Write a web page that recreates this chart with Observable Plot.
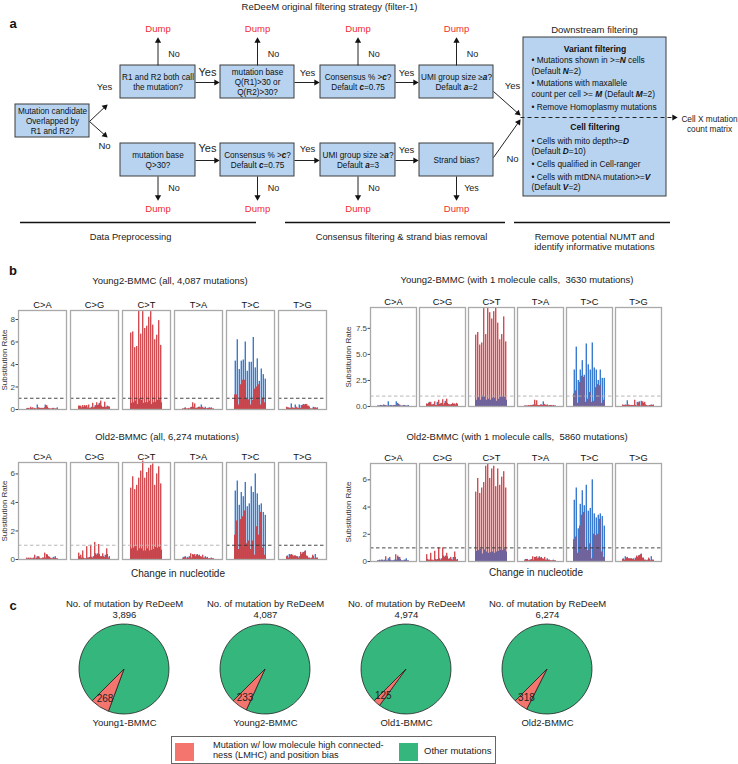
<!DOCTYPE html>
<html><head><meta charset="utf-8">
<script src="https://cdn.jsdelivr.net/npm/d3@7"></script>
<script src="https://cdn.jsdelivr.net/npm/@observablehq/plot@0.6"></script>
<style>
body{margin:0;background:#fff;}
#root{position:relative;width:738px;height:764px;overflow:hidden;background:#fff;font-family:"Liberation Sans",Arial,Helvetica,sans-serif;}
</style></head>
<body><div id="root"></div>
<script>
// ================= DATA =================
const mutationTypes = ["C>A","C>G","C>T","T>A","T>C","T>G"];
const contexts = ["A_A","A_C","A_G","A_T","C_A","C_C","C_G","C_T","G_A","G_C","G_G","G_T","T_A","T_C","T_G","T_T"];

// Young2-BMMC (all, 4,087 mutations) — 6 types x 16 contexts
const young2AllRed = [
 0.05,0.10,0.20,0.15,0.10,0.05,0.15,0.10,0.10,0.15,0.35,0.10,0.05,0.10,0.05,0.05,
 0.30,0.30,0.35,0.35,0.35,0.40,0.10,0.55,0.20,0.60,0.40,0.75,0.20,0.65,0.20,0.25,
 6.8,6.9,5.5,5.6,8.8,6.7,8.7,7.2,7.4,8.2,8.7,7.5,6.2,6.6,7.9,5.7,
 0.05,0.10,0.05,0.10,0.15,0.60,0.50,0.10,0.20,0.15,0.20,0.10,0.05,0.10,0.10,0.05,
 1.3,1.3,0.4,2.2,2.6,2.6,0.9,0.85,0.4,0.8,1.8,2.0,2.2,0.4,1.0,0.6,
 0.20,0.15,0.10,0.15,0.10,0.20,0.10,0.10,0.35,0.40,0.45,0.30,0.05,0.05,0.15,0.10];
const young2AllBlue = [
 0.10,0.05,0.10,0.05,0.05,0.40,0.10,0.10,0.10,0.40,0.20,0.05,0.05,0.10,0.05,0.15,
 0.30,0.15,0.20,0.25,0.15,0.10,0.20,0.15,0.35,0.35,0.55,0.30,0.20,0.20,0.30,0.20,
 0.55,0.60,0.75,0.45,0.95,0.80,0.55,0.60,0.60,0.75,0.45,0.60,0.65,0.80,0.85,0.60,
 0.05,0.15,0.05,0.05,0.20,0.20,0.10,0.15,0.20,0.40,0.10,0.20,0.10,0.15,0.15,0.05,
 4.3,6.2,3.55,4.3,4.4,6.0,3.4,4.2,4.2,6.4,3.7,4.5,2.5,3.6,3.1,2.7,
 0.15,0.10,0.50,0.10,0.40,0.10,0.40,0.35,0.45,0.45,0.30,0.20,0.05,0.20,0.15,0.15];

// Young2-BMMC (with 1 molecule calls, 3630 mutations)
const young2MolRed = [
 0.05,0.05,0.10,0.15,0.10,0.05,0.05,0.10,0.10,0.10,0.30,0.15,0.05,0.10,0.05,0.05,
 0.25,0.30,0.40,0.15,0.45,0.10,0.60,0.25,0.65,0.30,0.70,0.20,0.15,0.30,0.25,0.30,
 6.85,7.1,5.9,6.1,9.4,6.9,9.5,9.0,8.4,9.1,9.5,8.0,6.4,6.9,8.6,6.2,
 0.05,0.05,0.10,0.10,0.10,0.60,0.55,0.10,0.15,0.10,0.20,0.10,0.05,0.10,0.05,0.05,
 1.2,1.5,0.3,2.3,2.9,2.8,0.4,0.7,1.35,0.4,0.5,1.8,2.1,2.0,0.3,0.6,
 0.15,0.10,0.10,0.15,0.10,0.10,0.60,0.05,0.35,0.05,0.45,0.40,0.10,0.05,0.10,0.10];
const young2MolBlue = [
 0.05,0.10,0.05,0.10,0.05,0.45,0.10,0.05,0.10,0.45,0.20,0.05,0.05,0.10,0.05,0.10,
 0.20,0.40,0.15,0.20,0.10,0.40,0.20,0.30,0.15,0.50,0.30,0.15,0.20,0.20,0.15,0.20,
 0.60,0.85,0.60,1.00,0.90,0.60,0.70,0.60,0.80,0.80,0.50,0.70,0.90,0.90,0.90,0.60,
 0.05,0.05,0.05,0.10,0.15,0.15,0.10,0.10,0.15,0.45,0.10,0.15,0.10,0.10,0.10,0.05,
 3.5,5.7,2.5,3.5,4.4,3.0,6.0,4.0,3.5,6.1,3.7,3.5,2.5,3.5,2.7,2.7,
 0.10,0.15,0.55,0.10,0.10,0.10,0.10,0.40,0.45,0.50,0.30,0.15,0.05,0.10,0.15,0.15];

// Old2-BMMC (all, 6,274 mutations)
const old2AllRed = [
 0.10,0.10,0.10,0.05,0.30,0.10,0.20,0.05,0.10,0.45,0.35,0.20,0.10,0.05,0.10,0.05,
 0.45,0.30,0.60,0.05,0.90,0.10,1.00,0.10,1.20,0.30,1.05,0.20,0.40,0.15,0.75,0.10,
 5.0,5.8,4.9,5.2,5.7,6.2,6.9,5.7,6.1,6.4,6.6,6.7,5.2,6.0,6.5,5.3,
 0.05,0.15,0.05,0.10,0.40,0.35,0.35,0.30,0.25,0.20,0.30,0.10,0.10,0.05,0.05,0.05,
 1.7,2.7,0.7,2.8,3.0,3.4,1.1,1.3,0.7,1.3,0.3,2.3,1.7,3.3,0.8,0.3,
 0.20,0.10,0.30,0.30,0.25,0.20,0.10,0.50,0.45,0.55,0.25,0.10,0.05,0.30,0.05,0.10];
const old2AllBlue = [
 0.05,0.05,0.05,0.10,0.05,0.20,0.10,0.05,0.10,0.10,0.30,0.15,0.05,0.15,0.20,0.05,
 0.20,0.10,0.10,0.05,0.10,0.15,0.15,0.20,0.40,0.40,0.35,0.20,0.20,0.30,0.35,0.20,
 0.75,0.80,0.90,0.60,0.75,0.75,0.60,0.60,0.75,0.60,0.65,0.70,0.85,0.80,0.85,0.65,
 0.15,0.20,0.15,0.20,0.10,0.30,0.20,0.35,0.30,0.15,0.10,0.20,0.15,0.05,0.10,0.05,
 4.8,5.5,3.8,4.7,4.4,5.4,3.7,3.9,5.1,4.7,6.0,4.6,3.8,3.9,3.3,3.1,
 0.25,0.35,0.35,0.20,0.25,0.20,0.20,0.35,0.50,0.60,0.20,0.10,0.10,0.20,0.35,0.10];

// Old2-BMMC (with 1 molecule calls, 5860 mutations)
const old2MolRed = [
 0.05,0.10,0.10,0.05,0.35,0.05,0.30,0.05,0.05,0.50,0.40,0.30,0.05,0.05,0.10,0.05,
 0.50,0.10,0.60,0.10,0.75,0.10,1.00,0.10,1.00,0.30,0.60,0.15,0.30,0.10,0.70,0.10,
 5.1,6.1,5.0,5.4,5.8,7.0,7.2,6.1,6.8,7.0,5.5,6.8,5.6,6.2,6.6,5.4,
 0.05,0.15,0.05,0.10,0.35,0.30,0.35,0.25,0.25,0.20,0.30,0.10,0.10,0.05,0.05,0.05,
 1.6,1.8,0.6,2.6,3.4,3.6,1.0,0.8,1.3,0.2,2.0,1.9,2.0,3.1,0.7,0.3,
 0.15,0.10,0.25,0.20,0.20,0.15,0.10,0.40,0.40,0.50,0.25,0.10,0.05,0.25,0.05,0.10];
const old2MolBlue = [
 0.05,0.05,0.10,0.10,0.05,0.20,0.10,0.05,0.10,0.10,0.30,0.15,0.05,0.10,0.20,0.05,
 0.15,0.10,0.10,0.05,0.15,0.15,0.20,0.20,0.40,0.40,0.35,0.20,0.15,0.30,0.30,0.15,
 0.75,0.80,0.90,0.55,0.85,0.70,0.60,0.65,0.70,0.60,0.70,0.75,0.85,0.80,0.90,0.70,
 0.15,0.15,0.10,0.15,0.10,0.30,0.20,0.35,0.30,0.15,0.10,0.20,0.10,0.05,0.10,0.05,
 4.5,5.4,2.4,4.2,5.2,4.1,5.6,3.7,3.9,6.0,3.5,3.2,3.4,3.5,3.3,2.6,
 0.20,0.35,0.30,0.20,0.20,0.20,0.25,0.30,0.45,0.55,0.25,0.10,0.10,0.15,0.35,0.10];

// Panel c pies
const pieSamples = ["Young1-BMMC","Young2-BMMC","Old1-BMMC","Old2-BMMC"];
const pieTotals  = [3896, 4087, 4974, 6274];
const pieLMHC    = [268, 233, 125, 318];
const legendLabels = ["Mutation w/ low molecule high connected-\nness (LMHC) and position bias", "Other mutations"];

// ================= STYLE / LAYOUT =================
const FONT = '"Liberation Sans", Arial, Helvetica, sans-serif';
const RED = "#cc3a3e", BLUE = "#3a7bcf";
const PINK = "#f3756e", GREEN = "#35b67c";
const BOXFILL = "#b7d3ef", DUMP = "#ee2b30";
const root = document.getElementById("root");

function put(el, left, top){ el.style.position="absolute"; el.style.left=left+"px"; el.style.top=top+"px"; root.appendChild(el); return el; }
function txt(s, x, y, o={}){
  const d=document.createElement("div");
  d.textContent=s;
  const size=o.size||9.5;
  d.style.cssText=`position:absolute;left:${x}px;top:${y}px;font-size:${size}px;font-weight:${o.weight||400};color:${o.color||"#222"};white-space:pre;line-height:1;font-family:${FONT};transform:translate(${o.anchor==="start"?"0":"-50%"},-50%) rotate(${o.rotate||0}deg);`;
  root.appendChild(d); return d;
}
function emphasize(svg){
  svg.querySelectorAll("text, tspan").forEach(el=>{
    if (el.children.length) return;
    const s = el.textContent;
    if (!s.includes("*")) return;
    el.textContent = "";
    s.split("*").forEach((part,i)=>{
      if (!part) return;
      const t = document.createElementNS("http://www.w3.org/2000/svg","tspan");
      t.textContent = part;
      if (i%2===1){ t.setAttribute("font-weight","bold"); t.setAttribute("font-style","italic"); }
      el.appendChild(t);
    });
  });
}

// ================= PANEL a : flowchart =================
const flowBoxes = [
  {x1:15, x2:89, y1:104, y2:137, text:"Mutation candidate\nOverlapped by\nR1 and R2?"},
  {x1:120,x2:195,y1:65, y2:98, text:"R1 and R2 both call\nthe mutation?"},
  {x1:220,x2:294,y1:65, y2:98, text:"mutation base\nQ(R1)>30 or\nQ(R2)>30?"},
  {x1:320,x2:395,y1:65, y2:98, text:"Consensus % >*c*?\nDefault *c*=0.75"},
  {x1:419,x2:493,y1:65, y2:98, text:"UMI group size ≥*a*?\nDefault *a*=2"},
  {x1:120,x2:195,y1:143,y2:176,text:"mutation base\nQ>30?"},
  {x1:220,x2:294,y1:143,y2:176,text:"Consensus % >*c*?\nDefault *c*=0.75"},
  {x1:320,x2:395,y1:143,y2:176,text:"UMI group size ≥*a*?\nDefault *a*=3"},
  {x1:419,x2:493,y1:143,y2:176,text:"Strand bias?"}
];
const downBox = [{x1:523,x2:666,y1:37,y2:196}];
const colX = [157.5,257,357.5,456];
function arrow(x1,y1,x2,y2,dash){
  const dx=x2-x1, dy=y2-y1, L=Math.hypot(dx,dy), ux=dx/L, uy=dy/L;
  return {x1,y1,x2:x2-ux*4,y2:y2-uy*4,hx:x2-ux*3.4,hy:y2-uy*3.4,rot:Math.atan2(dx,-dy)*180/Math.PI,dash};
}
const arrows = [
  ...colX.map(c=>arrow(c,65,c,37)),
  ...colX.map(c=>arrow(c,176,c,200)),
  arrow(195,82,219,82), arrow(294,82,319,82), arrow(395,82,418,82),
  arrow(195,160,219,160), arrow(294,160,319,160), arrow(395,160,418,160),
  arrow(89,121,107,104), arrow(89,121,107,137),
  arrow(493,91,520,115), arrow(493,157,520,119)
];
const dashArrow = [arrow(520,117,677,117,true)];
const flowLabels = [
  ...colX.map(c=>({x:c,y:28,text:"Dump",color:DUMP,size:9.5})),
  ...colX.map(c=>({x:c,y:208,text:"Dump",color:DUMP,size:9.5})),
  ...colX.map(c=>({x:c+16,y:53,text:"No",color:"#222",size:9})),
  ...["No","No","No","Yes"].map((t,i)=>({x:colX[i]+(t==="Yes"?15:16),y:187,text:t,color:"#222",size:9})),
  {x:207,y:72,text:"Yes",color:"#222",size:11},{x:307,y:72,text:"Yes",color:"#222",size:9.5},{x:406,y:72,text:"Yes",color:"#222",size:9.5},
  {x:207,y:148,text:"Yes",color:"#222",size:11},{x:307,y:148,text:"Yes",color:"#222",size:9.5},{x:406,y:149,text:"Yes",color:"#222",size:9.5},
  {x:104,y:86,text:"Yes",color:"#222",size:9.5},{x:104,y:145,text:"No",color:"#222",size:9.5},
  {x:512,y:85,text:"Yes",color:"#222",size:9.5},{x:512,y:158,text:"No",color:"#222",size:9.5},
  {x:594,y:29,text:"Downstream filtering",color:"#222",size:9.5},
  {x:329,y:6,text:"ReDeeM original filtering strategy (filter-1)",color:"#222",size:9.5},
  {x:709,y:123.5,text:"Cell X mutation\ncount matrix",color:"#222",size:8.3},
  {x:130,y:236,text:"Data Preprocessing",color:"#222",size:9.3},
  {x:401,y:236,text:"Consensus filtering & strand bias removal",color:"#222",size:9.3},
  {x:594,y:241.5,text:"Remove potential NUMT and\nidentify informative mutations",color:"#222",size:9.3}
];
const downHeads = [{x:594.5,y:49,text:"Variant filtering"},{x:594.5,y:127,text:"Cell filtering"}];
const downLines = [
  {y:60,text:"• Mutations shown in >=*N* cells"},
  {y:71,text:"(Default *N*=2)"},
  {y:83,text:"• Mutations with maxallele"},
  {y:93.5,text:"count per cell >= *M* (Default *M*=2)"},
  {y:106.5,text:"• Remove Homoplasmy mutations"},
  {y:141,text:"• Cells with mito depth>=*D*"},
  {y:151,text:"(Default *D*=10)"},
  {y:164,text:"• Cells qualified in Cell-ranger"},
  {y:177,text:"• Cells with mtDNA mutation>=*V*"},
  {y:187,text:"(Default *V*=2)"}
];
const sectionRules = [{x1:20,x2:256},{x1:285,x2:505},{x1:514,x2:670}];

const flow = Plot.plot({
  width:738, height:256, margin:0,
  x:{domain:[0,738], range:[0,738], axis:null},
  y:{domain:[0,256], range:[0,256], axis:null},
  style:{fontFamily:FONT, background:"transparent", overflow:"visible"},
  marks:[
    Plot.rect(flowBoxes,{x1:"x1",x2:"x2",y1:"y1",y2:"y2",fill:BOXFILL,stroke:"#3d3d3d",strokeWidth:1}),
    Plot.rect(downBox,{x1:"x1",x2:"x2",y1:"y1",y2:"y2",fill:BOXFILL,stroke:"#3d3d3d",strokeWidth:1}),
    Plot.text(flowBoxes,{x:d=>(d.x1+d.x2)/2,y:d=>(d.y1+d.y2)/2,text:"text",fontSize:8.2,lineHeight:1.2,fill:"#111"}),
    Plot.link(arrows,{x1:"x1",y1:"y1",x2:"x2",y2:"y2",stroke:"#222",strokeWidth:1}),
    Plot.link(dashArrow,{x1:"x1",y1:"y1",x2:"x2",y2:"y2",stroke:"#222",strokeWidth:1,strokeDasharray:"4,3"}),
    Plot.dot([...arrows,...dashArrow],{x:"hx",y:"hy",rotate:"rot",symbol:"triangle",r:2.3,fill:"#111",stroke:"none"}),
    Plot.text(flowLabels,{x:"x",y:"y",text:"text",fill:"color",fontSize:"size",lineHeight:1.1}),
    Plot.text(downHeads,{x:"x",y:"y",text:"text",fontSize:8.6,fontWeight:"bold",fill:"#111"}),
    Plot.text(downLines,{x:()=>531,y:"y",text:"text",fontSize:8.3,textAnchor:"start",fill:"#111"}),
    Plot.ruleY(sectionRules,{x1:"x1",x2:"x2",y:()=>222,stroke:"#111",strokeWidth:1.4})
  ]
});
emphasize(flow);
put(flow,0,0);
txt("a",13,23,{size:13,weight:700,color:"#111"});

// ================= PANEL b : substitution bars =================
const LIGHT="#b0b0b0", DARK="#333";
const barCharts = [
  {red:young2AllRed, blue:young2AllBlue, left:0, top:290, width:330, height:121, marginLeft:17, marginTop:20,
   yMax:8.8, ticks:[0,2,4,6,8], fmt:d3.format("d"), gap:0.076, dash:[DARK,DARK,DARK,DARK,DARK,DARK],
   title:"Young2-BMMC (all, 4,087 mutations)", tx:170, ty:281, ylx:5, xlabel:null},
  {red:young2MolRed, blue:young2MolBlue, left:350, top:291, width:314, height:117, marginLeft:18, marginTop:16,
   yMax:9.5, ticks:[0,2.5,5,7.5], fmt:d3.format(".1f"), gap:0.067, dash:[LIGHT,LIGHT,LIGHT,LIGHT,LIGHT,LIGHT],
   title:"Young2-BMMC (with 1 molecule calls,  3630 mutations)", tx:517, ty:280, ylx:349, xlabel:null},
  {red:old2AllRed, blue:old2AllBlue, left:0, top:442, width:330, height:119, marginLeft:17, marginTop:20,
   yMax:6.8, ticks:[0,2,4,6], fmt:d3.format("d"), gap:0.076, dash:[LIGHT,LIGHT,LIGHT,LIGHT,DARK,DARK],
   title:"Old2-BMMC (all, 6,274 mutations)", tx:167, ty:437, ylx:5, xlabel:[178,574]},
  {red:old2MolRed, blue:old2MolBlue, left:350, top:444, width:314, height:119, marginLeft:18, marginTop:19,
   yMax:7.2, ticks:[0,2,4,6], fmt:d3.format("d"), gap:0.067, dash:[DARK,DARK,DARK,DARK,DARK,DARK],
   title:"Old2-BMMC (with 1 molecule calls,  5860 mutations)", tx:517, ty:437, ylx:349, xlabel:[536,573]}
];
for (const cfg of barCharts){
  const rows=[];
  mutationTypes.forEach((t,i)=>contexts.forEach((c,j)=>{
    rows.push({type:t,context:c,strand:"L",value:cfg.red[i*16+j]});
    rows.push({type:t,context:c,strand:"H",value:cfg.blue[i*16+j]});
  }));
  const dash = mutationTypes.map((t,i)=>({type:t,level:1,color:cfg.dash[i]}));
  const chart = Plot.plot({
    width:cfg.width, height:cfg.height,
    marginLeft:cfg.marginLeft, marginRight:2, marginTop:cfg.marginTop, marginBottom:2,
    style:{fontFamily:FONT, background:"transparent", overflow:"visible", color:"#222"},
    fx:{domain:mutationTypes, paddingInner:cfg.gap, paddingOuter:0, axis:null},
    x:{domain:contexts, paddingInner:0, paddingOuter:0.25, axis:null},
    y:{domain:[0,cfg.yMax], axis:null},
    color:{type:"identity"},
    marks:[
      Plot.barY(rows.filter(d=>d.strand==="H"),{fx:"type",x:"context",y:"value",fill:BLUE,insetLeft:0.6}),
      Plot.barY(rows.filter(d=>d.strand==="L"),{fx:"type",x:"context",y:"value",fill:RED,fillOpacity:0.9,insetRight:0.6}),
      Plot.ruleY(dash,{fx:"type",y:"level",stroke:"color",strokeDasharray:"3.5,2.5",strokeWidth:0.9}),
      Plot.frame({stroke:"#a9a9a9",strokeWidth:1.3}),
      Plot.axisFx({anchor:"top",tickSize:0,tickPadding:3,fontSize:9.3,label:null,color:"#111"}),
      Plot.axisY({anchor:"left",facetAnchor:"left",ticks:cfg.ticks,tickFormat:cfg.fmt,tickSize:2.5,tickPadding:1,fontSize:8,label:null,color:"#444"})
    ]
  });
  put(chart,cfg.left,cfg.top);
  txt(cfg.title,cfg.tx,cfg.ty,{size:9.5});
  const panelMid = cfg.top + cfg.marginTop + (cfg.height-cfg.marginTop-2)/2;
  txt("Substitution Rate",cfg.ylx,panelMid,{size:8,rotate:-90,color:"#333"});
  if (cfg.xlabel) txt("Change in nucleotide",cfg.xlabel[0],cfg.xlabel[1],{size:10});
}
txt("b",13,270,{size:13,weight:700,color:"#111"});

// ================= PANEL c : pies =================
const pieRows = pieSamples.map((s,i)=>({sample:s,total:pieTotals[i],lmhc:pieLMHC[i]}));
const PIE_R = 45, PIE_CY = 79, PIE_END = 225*Math.PI/180;
function pieMark(index, scales){
  const g = d3.create("svg:g");
  for (const d of pieRows){
    const cx = scales.x(d.sample), cy = scales.y(PIE_CY);
    const arcs = d3.pie().sort(null).value(v=>v.n).startAngle(PIE_END).endAngle(PIE_END+2*Math.PI)
      ([{key:"other",n:d.total-d.lmhc},{key:"lmhc",n:d.lmhc}]);
    const arc = d3.arc().innerRadius(0).outerRadius(PIE_R);
    const gg = g.append("g").attr("transform",`translate(${cx},${cy})`);
    gg.selectAll("path").data(arcs).join("path").attr("d",arc)
      .attr("fill",a=>a.data.key==="lmhc"?PINK:GREEN).attr("stroke","#222").attr("stroke-width",0.8);
    const lab = arcs[1];
    const c = d3.arc().innerRadius(PIE_R*0.78).outerRadius(PIE_R*0.78).centroid(lab);
    gg.append("text").attr("x",c[0]).attr("y",c[1]).attr("dy","0.35em").attr("text-anchor","middle")
      .attr("font-size",10).attr("fill","#222").text(d.lmhc);
  }
  return g.node();
}
const pies = Plot.plot({
  width:738, height:142, margin:0,
  x:{type:"point", domain:pieSamples, range:[123,548], padding:0, axis:null},
  y:{domain:[0,142], range:[0,142], axis:null},
  style:{fontFamily:FONT, background:"transparent", overflow:"visible"},
  marks:[
    pieMark,
    Plot.text(pieRows,{x:"sample",y:()=>13,text:()=>"No. of mutation by ReDeeM",fontSize:9.5,fill:"#222"}),
    Plot.text(pieRows,{x:"sample",y:()=>24,text:d=>d3.format(",")(d.total),fontSize:9.5,fill:"#222"}),
    Plot.text(pieRows,{x:"sample",y:()=>132,text:"sample",fontSize:9.5,fill:"#222"})
  ]
});
put(pies,0,590);
txt("c",13,605,{size:13,weight:700,color:"#111"});

// legend
const leg = document.createElement("div");
leg.style.cssText="position:absolute;left:171px;top:736px;width:323px;height:26px;border:1px solid #666;box-sizing:content-box;";
root.appendChild(leg);
const sw1=document.createElement("div"); sw1.style.cssText=`position:absolute;left:3px;top:6px;width:19px;height:18px;background:${PINK};`; leg.appendChild(sw1);
const sw2=document.createElement("div"); sw2.style.cssText=`position:absolute;left:227px;top:6px;width:19px;height:18px;background:${GREEN};`; leg.appendChild(sw2);
const l1=document.createElement("div"); l1.textContent=legendLabels[0];
l1.style.cssText=`position:absolute;left:41px;top:4px;font-size:9.2px;line-height:9.6px;white-space:pre;color:#222;font-family:${FONT};`; leg.appendChild(l1);
const l2=document.createElement("div"); l2.textContent=legendLabels[1];
l2.style.cssText=`position:absolute;left:252px;top:9px;font-size:9.5px;line-height:1;white-space:pre;color:#222;font-family:${FONT};`; leg.appendChild(l2);
</script></body></html>
